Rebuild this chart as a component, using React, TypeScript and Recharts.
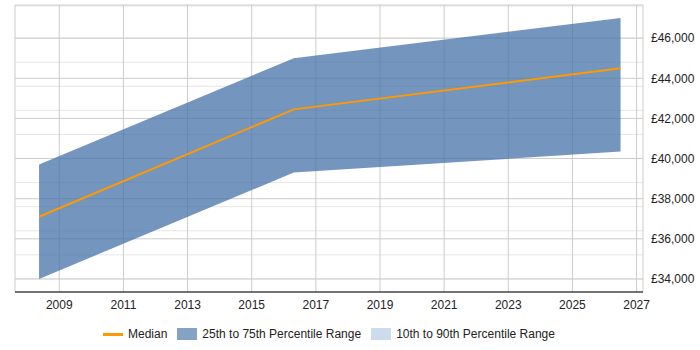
import React from 'react';
import {
  ComposedChart,
  Area,
  Line,
  XAxis,
  YAxis,
  CartesianGrid,
} from 'recharts';

// Salary snapshots (fractional year of each survey)
const years = [2008.37, 2016.31, 2026.5];
const median = [37100, 42450, 44500];
const q25 = [34000, 39300, 40350];
const q75 = [39700, 45000, 47000];

const yearTicks = [2009, 2011, 2013, 2015, 2017, 2019, 2021, 2023, 2025, 2027];
const salaryTicks = [34000, 36000, 38000, 40000, 42000, 44000, 46000];
const minorLines = Array.from({ length: 36 }, (_, i) => 33600 + i * 400);

const data = years.map((year, i) => ({
  year,
  median: median[i],
  iqr: [q25[i], q75[i]],
}));

const font = '"Liberation Sans", Arial, sans-serif';
const formatPounds = (v: number) => `£${v.toLocaleString('en-GB')}`;

const LegendItem: React.FC<{ swatch: React.ReactNode; label: string }> = ({ swatch, label }) => (
  <div style={{ display: 'flex', alignItems: 'center', marginRight: 10 }}>
    {swatch}
    <span style={{ marginLeft: 5 }}>{label}</span>
  </div>
);

export default function App() {
  return (
    <div style={{ position: 'absolute', left: 0, top: 0, width: 700, height: 350, background: '#fff', fontFamily: font }}>
      <ComposedChart
        width={700}
        height={350}
        data={data}
        margin={{ top: 5, right: 7, left: 15, bottom: 33 }}
      >
        {/* minor horizontal lines every £400, then major lines + year lines */}
        <CartesianGrid vertical={false} horizontalValues={minorLines} stroke="#e6e6e6" />
        <CartesianGrid stroke="#cccccc" />
        <XAxis
          dataKey="year"
          type="number"
          domain={[2007.62, 2027.2]}
          ticks={yearTicks}
          tickLine={false}
          axisLine={{ stroke: '#000' }}
          tick={{ fill: '#222', fontSize: 12, fontFamily: font }}
          height={25}
          allowDataOverflow
        />
        <YAxis
          orientation="right"
          type="number"
          domain={[33350, 47650]}
          ticks={salaryTicks}
          tickFormatter={formatPounds}
          axisLine={false}
          tickLine={false}
          tick={{ fill: '#222', fontSize: 12, fontFamily: font, textAnchor: 'start' }}
          width={50}
          allowDataOverflow
        />
        <Area
          dataKey="iqr"
          type="linear"
          stroke="none"
          fill="#4572a7"
          fillOpacity={0.75}
          isAnimationActive={false}
        />
        <Line
          dataKey="median"
          type="linear"
          stroke="#ff9900"
          strokeWidth={2}
          dot={false}
          activeDot={false}
          isAnimationActive={false}
        />
      </ComposedChart>
      <div
        style={{
          position: 'absolute',
          left: 103,
          top: 326,
          display: 'flex',
          fontSize: 12,
          color: '#222',
          lineHeight: '16px',
        }}
      >
        <LegendItem
          swatch={<div style={{ width: 20, height: 3, background: '#ff9900' }} />}
          label="Median"
        />
        <LegendItem
          swatch={<div style={{ width: 20, height: 12, background: '#83a2c6' }} />}
          label="25th to 75th Percentile Range"
        />
        <LegendItem
          swatch={<div style={{ width: 20, height: 12, background: '#cddcec' }} />}
          label="10th to 90th Percentile Range"
        />
      </div>
    </div>
  );
}
